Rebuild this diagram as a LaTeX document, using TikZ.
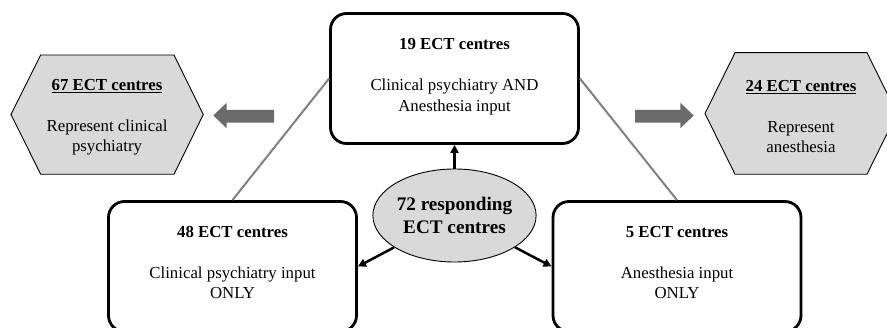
\documentclass[tikz,border=0pt]{standalone}
\usepackage{fontspec}
\setmainfont{Liberation Serif}
\usetikzlibrary{arrows.meta,shapes.geometric}
\definecolor{hexgray}{HTML}{D9D9D9}
\definecolor{linegray}{HTML}{808080}
\definecolor{blockgray}{HTML}{6B6B6B}
\begin{document}
\begin{tikzpicture}[x=1pt,y=-1pt,
  box/.style={draw=black, fill=white, line width=2.8pt, rounded corners=16pt, minimum width=248pt, minimum height=130pt, inner sep=0pt},
  txt/.style={align=center, font=\fontsize{16.8}{20.5}\selectfont, inner sep=0pt},
  hexa/.style={draw=black, line width=0.9pt, fill=hexgray},
  conn/.style={draw=linegray, line width=2pt},
  arr/.style={draw=black, line width=2.5pt, -{Triangle[length=8pt,width=8pt]}},
  block/.style={fill=blockgray},
  ell/.style={draw=black, line width=0.9pt, fill=hexgray, ellipse, minimum width=141pt, minimum height=93pt, inner sep=0pt, align=center, font=\fontsize{19.2}{23}\selectfont\bfseries}
]
\clip (0,0) rectangle (887,328);
% boxes
\node[box] (top) at (454.5,78.5) {};
\node[box] (bl) at (232.5,266.5) {};
\node[box] (br) at (677,266.5) {};
\node[txt] (toptext) at ([yshift=2pt]top.center) {\textbf{19 ECT centres}\\[20.5pt]Clinical psychiatry AND\\Anesthesia input};
\node[txt] (bltext) at ([yshift=4pt]bl.center) {\textbf{48 ECT centres}\\[20.5pt]Clinical psychiatry input\\ONLY};
\node[txt] (brtext) at ([yshift=4pt]br.center) {\textbf{5 ECT centres}\\[20.5pt]Anesthesia input\\ONLY};
% hexagons
\draw[hexa] (11,114.5) -- (40.7,55) -- (174,55) -- (203.3,114.5) -- (174,174.3) -- (40.7,174.3) -- cycle;
\node[txt] (lhex) at (107,117.5) {\underline{\textbf{67 ECT centres}}\\[20.5pt]Represent clinical\\psychiatry};
\draw[hexa] (705,113.5) -- (735,52.7) -- (867,52.7) -- (897,113.5) -- (867,174.3) -- (735,174.3) -- cycle;
\node[txt] (rhex) at (801,116.5) {\underline{\textbf{24 ECT centres}}\\[20.5pt]Represent\\anesthesia};
% block arrows
\fill[block] (274,110) -- (226.7,110) -- (226.7,102.7) -- (213.3,115.5) -- (226.7,128.3) -- (226.7,122.7) -- (274,122.7) -- cycle;
\fill[block] (635,110) -- (680.3,110) -- (680.3,102.7) -- (693.7,115.5) -- (680.3,128.3) -- (680.3,122.7) -- (635,122.7) -- cycle;
% gray connectors
\draw[conn] (top.west) -- (bl.north);
\draw[conn] (top.east) -- (br.north);
% ellipse
\node[ell] (resp) at (454.5,215.5) {72 responding\\ECT centres};
\draw[arr] (resp) -- (top.south);
\draw[arr] (resp) -- (bl.east);
\draw[arr] (resp) -- (br.west);
\end{tikzpicture}
\end{document}
